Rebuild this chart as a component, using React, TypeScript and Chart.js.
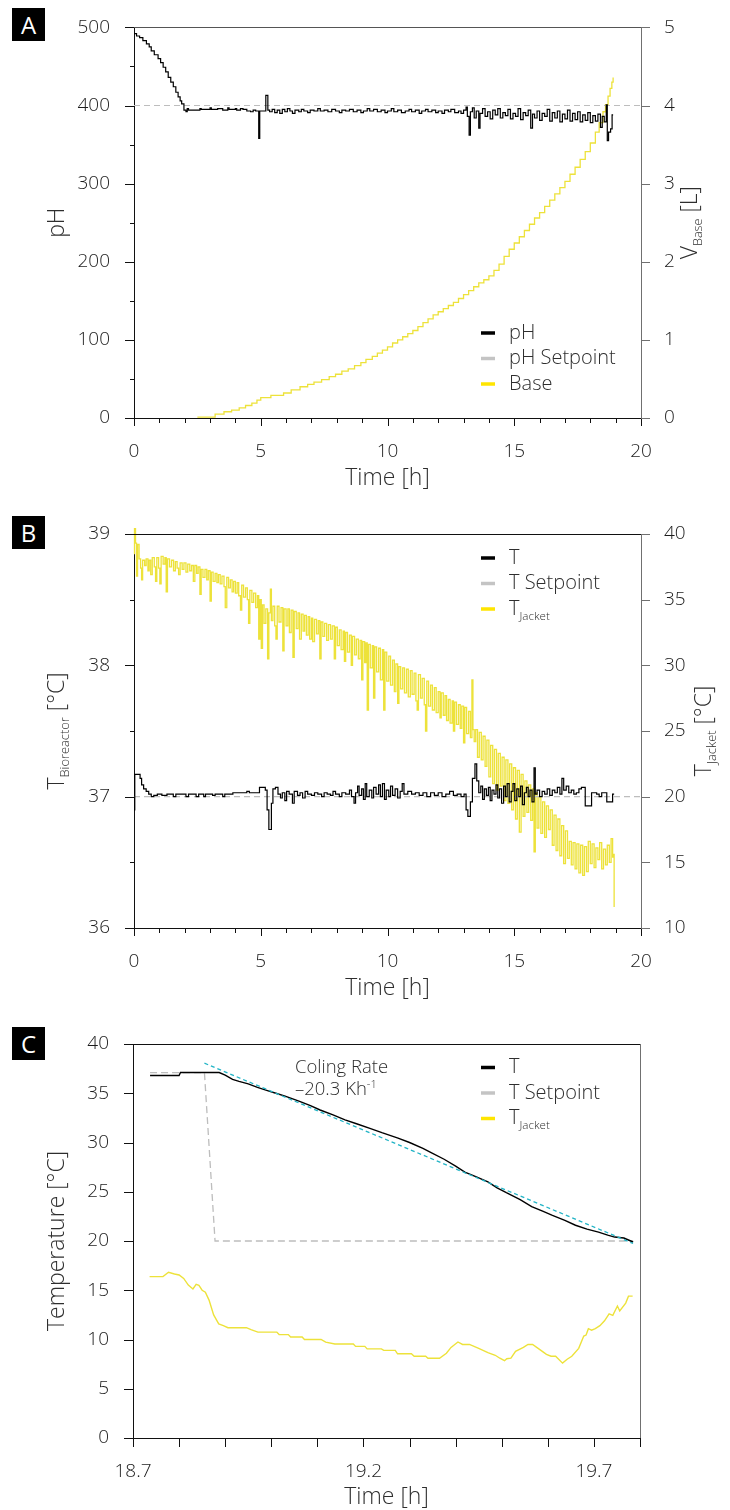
import React, { useEffect, useRef } from 'react';
import { Chart, registerables } from 'chart.js';

Chart.register(...registerables);

type Pt = [number, number];
type Part = { t: string; s?: 'sub' | 'sup'; k?: number };

// ---------- tick values ----------
const X_MAJOR_AB = [0, 5, 10, 15, 20];
const X_MINOR_AB = [1, 2, 3, 4, 6, 7, 8, 9, 11, 12, 13, 14, 16, 17, 18, 19];
const PH_MAJOR = [0, 100, 200, 300, 400, 500];
const PH_MINOR = [50, 150, 250, 350, 450];
const VBASE_TICKS = [0, 1, 2, 3, 4, 5];
const TBIO_MAJOR = [36, 37, 38, 39];
const TBIO_MINOR = [36.5, 37.5, 38.5];
const TJACKET_TICKS = [10, 15, 20, 25, 30, 35, 40];
const C_X_TICKS = [18.7, 18.8, 18.9, 19.0, 19.1, 19.2, 19.3, 19.4, 19.5, 19.6, 19.7, 19.8];
const C_X_LABELS = [18.7, 19.2, 19.7];
const C_Y_TICKS = [0, 5, 10, 15, 20, 25, 30, 35, 40];

// ---------- panel A ----------
const PH: Pt[] = [
  [0, 492], [0.1, 489], [0.22, 487], [0.35, 483], [0.49, 479], [0.6, 475], [0.68, 470], [0.8, 465], [0.95, 460],
  [1.05, 455], [1.15, 449], [1.25, 443], [1.35, 436], [1.45, 430], [1.55, 424], [1.65, 417], [1.74, 411], [1.82, 406],
  [1.88, 402], [1.97, 394], [2.05, 392], [2.1, 396], [2.15, 394], [2.6, 396], [2.65, 395], [3.0, 397], [3.05, 395],
  [3.3, 396], [3.5, 394], [3.7, 397], [3.75, 395], [4.0, 396], [4.05, 394], [4.2, 396], [4.3, 395], [4.45, 393],
  [4.6, 392], [4.7, 394], [4.8, 393], [4.92, 358], [4.96, 393], [5.2, 413], [5.28, 394], [5.35, 392], [5.45, 395],
  [5.55, 391], [5.65, 394], [5.75, 390], [5.85, 395], [5.95, 392], [6.05, 396], [6.15, 393], [6.25, 390], [6.35, 394],
  [6.5, 392], [6.6, 395], [6.7, 393], [6.85, 391], [6.95, 394], [7.1, 393], [7.25, 396], [7.35, 393], [7.5, 394],
  [7.65, 392], [7.8, 395], [7.95, 393], [8.1, 391], [8.2, 394], [8.35, 393], [8.5, 395], [8.65, 392], [8.8, 394],
  [8.95, 391], [9.05, 393], [9.2, 396], [9.3, 393], [9.45, 395], [9.6, 392], [9.75, 394], [9.9, 391], [10.0, 393],
  [10.15, 396], [10.25, 392], [10.4, 394], [10.55, 391], [10.7, 393], [10.85, 395], [10.95, 392], [11.1, 394],
  [11.25, 390], [11.35, 393], [11.5, 395], [11.6, 392], [11.75, 394], [11.9, 391], [12.0, 393], [12.15, 390],
  [12.25, 394], [12.4, 392], [12.5, 395], [12.65, 391], [12.8, 393], [12.9, 390], [13.0, 394], [13.1, 398],
  [13.15, 386], [13.22, 362], [13.27, 392], [13.35, 397], [13.42, 384], [13.5, 393], [13.6, 371], [13.65, 390],
  [13.75, 396], [13.85, 386], [13.95, 392], [14.05, 383], [14.15, 394], [14.25, 388], [14.35, 396], [14.45, 384],
  [14.55, 391], [14.65, 387], [14.75, 395], [14.85, 383], [14.95, 390], [15.05, 386], [15.15, 396], [15.25, 382],
  [15.35, 391], [15.45, 387], [15.55, 394], [15.65, 371], [15.72, 389], [15.8, 384], [15.9, 393], [16.0, 381],
  [16.1, 390], [16.2, 386], [16.3, 395], [16.4, 380], [16.5, 391], [16.6, 384], [16.7, 393], [16.8, 379], [16.9, 389],
  [17.0, 383], [17.1, 394], [17.2, 380], [17.3, 390], [17.4, 382], [17.5, 392], [17.6, 379], [17.7, 388], [17.8, 381],
  [17.9, 391], [18.0, 378], [18.1, 387], [18.2, 380], [18.3, 389], [18.4, 372], [18.47, 386], [18.55, 379],
  [18.63, 401], [18.67, 355], [18.72, 366], [18.8, 370], [18.86, 388], [18.9, 388],
];
const PH_SETPOINT: Pt[] = [[0, 400], [20, 400]];
const BASE: Pt[] = [
  [2.5, 0.01], [3.2, 0.05], [3.55, 0.08], [3.85, 0.1], [4.15, 0.13], [4.4, 0.16], [4.65, 0.19], [4.85, 0.23],
  [5.0, 0.26], [5.4, 0.29], [5.9, 0.32], [6.2, 0.36], [6.55, 0.4], [6.85, 0.43], [7.1, 0.46], [7.4, 0.49],
  [7.7, 0.53], [7.95, 0.56], [8.2, 0.6], [8.45, 0.63], [8.7, 0.67], [8.95, 0.71], [9.15, 0.75], [9.4, 0.79],
  [9.6, 0.83], [9.8, 0.87], [10.0, 0.91], [10.2, 0.96], [10.4, 1.0], [10.6, 1.04], [10.8, 1.08], [11.0, 1.12],
  [11.2, 1.17], [11.4, 1.22], [11.6, 1.27], [11.8, 1.32], [12.0, 1.36], [12.2, 1.4], [12.4, 1.44], [12.6, 1.48],
  [12.8, 1.53], [13.0, 1.58], [13.2, 1.63], [13.4, 1.68], [13.6, 1.73], [13.8, 1.77], [14.0, 1.82], [14.2, 1.89],
  [14.4, 1.97], [14.6, 2.07], [14.8, 2.16], [15.0, 2.24], [15.2, 2.32], [15.4, 2.4], [15.6, 2.48], [15.8, 2.56],
  [16.0, 2.63], [16.2, 2.71], [16.4, 2.79], [16.6, 2.87], [16.8, 2.95], [17.0, 3.03], [17.2, 3.12], [17.4, 3.21],
  [17.6, 3.31], [17.8, 3.41], [18.0, 3.52], [18.2, 3.66], [18.35, 3.78], [18.5, 3.92], [18.6, 4.01], [18.7, 4.12],
  [18.78, 4.22], [18.85, 4.3], [18.9, 4.36],
];

// ---------- panel B ----------
const T_B: Pt[] = [
  [0, 36.9], [0.03, 37.17], [0.24, 37.14], [0.3, 37.09], [0.38, 37.06], [0.48, 37.04], [0.58, 37.02], [0.68, 37.0],
  [0.78, 37.01], [0.92, 37.02], [1.1, 37.01], [1.3, 37.02], [1.55, 37.0], [1.65, 37.02], [1.95, 37.02], [2.05, 37.0],
  [2.15, 37.02], [2.45, 37.0], [2.55, 37.02], [2.75, 37.0], [2.82, 37.02], [3.1, 37.01], [3.2, 37.02], [3.5, 37.0],
  [3.58, 37.02], [3.9, 37.03], [4.3, 37.03], [4.45, 37.04], [4.55, 37.03], [4.95, 37.07], [5.18, 37.05],
  [5.25, 36.9], [5.32, 36.75], [5.42, 36.95], [5.48, 37.06], [5.58, 37.07], [5.68, 37.02], [5.78, 36.99],
  [5.85, 37.03], [5.95, 36.97], [6.02, 37.04], [6.12, 37.02], [6.25, 36.95], [6.32, 37.04], [6.45, 37.01],
  [6.55, 37.03], [6.65, 36.99], [6.75, 37.04], [6.85, 37.02], [7.0, 37.01], [7.12, 37.03], [7.25, 37.02],
  [7.4, 37.0], [7.5, 37.03], [7.62, 37.02], [7.75, 37.01], [7.85, 37.04], [7.95, 37.02], [8.1, 37.0], [8.2, 37.03],
  [8.35, 37.02], [8.5, 37.05], [8.58, 37.0], [8.68, 36.95], [8.74, 37.03], [8.82, 37.08], [8.88, 37.01],
  [8.98, 37.06], [9.05, 36.98], [9.12, 37.1], [9.18, 37.0], [9.28, 37.05], [9.38, 36.99], [9.45, 37.07],
  [9.55, 37.02], [9.65, 37.09], [9.72, 37.0], [9.8, 37.1], [9.88, 36.98], [9.95, 37.05], [10.05, 37.0],
  [10.12, 37.08], [10.2, 37.01], [10.3, 37.06], [10.4, 36.99], [10.5, 37.04], [10.58, 37.1], [10.65, 37.02],
  [10.8, 37.04], [10.95, 37.02], [11.1, 37.03], [11.25, 37.01], [11.4, 37.03], [11.55, 37.0], [11.7, 37.03],
  [11.85, 37.01], [12.0, 37.03], [12.15, 37.0], [12.3, 37.02], [12.45, 37.04], [12.6, 37.01], [12.75, 37.02],
  [12.9, 37.0], [13.02, 37.02], [13.1, 36.9], [13.17, 36.85], [13.27, 36.96], [13.35, 37.14], [13.45, 37.25],
  [13.52, 37.12], [13.6, 37.03], [13.68, 37.08], [13.75, 36.98], [13.82, 37.06], [13.9, 37.01], [13.98, 37.07],
  [14.05, 36.97], [14.12, 37.05], [14.2, 37.02], [14.28, 37.09], [14.35, 36.99], [14.42, 37.06], [14.5, 36.95],
  [14.58, 37.08], [14.65, 37.0], [14.72, 37.1], [14.8, 36.96], [14.88, 37.04], [14.95, 37.1], [15.02, 36.97],
  [15.1, 37.06], [15.18, 37.0], [15.25, 37.08], [15.32, 36.94], [15.4, 37.03], [15.48, 37.07], [15.55, 37.0],
  [15.62, 37.05], [15.7, 36.96], [15.78, 37.22], [15.83, 37.02], [15.9, 37.05], [16.0, 37.0], [16.1, 37.04],
  [16.2, 37.02], [16.3, 37.06], [16.4, 37.01], [16.5, 37.05], [16.6, 37.03], [16.7, 37.07], [16.8, 37.02],
  [16.88, 37.14], [16.95, 37.05], [17.05, 37.08], [17.15, 37.03], [17.25, 37.05], [17.35, 37.02], [17.45, 37.03],
  [17.55, 37.06], [17.65, 37.07], [17.8, 36.93], [18.05, 37.03], [18.25, 37.02], [18.35, 37.0], [18.45, 37.03],
  [18.65, 36.96], [18.88, 37.02], [18.94, 37.02],
];
const T_SETPOINT_B: Pt[] = [[0, 37], [20, 37]];
const T_JACKET_B: Pt[] = [
  [0, 38.5], [0.02, 40.4], [0.06, 39.3], [0.1, 36.8], [0.14, 39.2], [0.2, 38.1], [0.26, 37.4], [0.3, 36.5],
  [0.34, 38.0], [0.42, 37.6], [0.48, 38.1], [0.55, 37.2], [0.6, 38.0], [0.66, 36.9], [0.72, 38.2], [0.8, 37.5],
  [0.85, 36.4], [0.9, 38.2], [0.97, 37.4], [1.02, 36.2], [1.07, 38.3], [1.15, 37.7], [1.22, 38.2], [1.27, 35.6],
  [1.32, 38.1], [1.4, 37.5], [1.48, 38.0], [1.56, 37.2], [1.63, 37.9], [1.7, 37.4], [1.76, 36.9], [1.82, 37.8],
  [1.9, 37.3], [1.97, 37.8], [2.05, 37.1], [2.12, 37.7], [2.2, 37.2], [2.27, 37.6], [2.34, 36.4], [2.4, 37.6],
  [2.47, 37.0], [2.53, 37.5], [2.6, 35.4], [2.65, 37.3], [2.72, 36.7], [2.8, 37.3], [2.87, 36.5], [2.93, 37.2],
  [3.0, 34.9], [3.05, 37.1], [3.12, 36.4], [3.2, 37.0], [3.27, 36.3], [3.33, 36.9], [3.4, 36.2], [3.47, 36.8],
  [3.55, 36.0], [3.6, 34.4], [3.66, 36.7], [3.73, 35.9], [3.8, 36.5], [3.87, 35.6], [3.93, 36.4], [4.0, 35.5],
  [4.07, 36.3], [4.13, 35.3], [4.2, 34.2], [4.25, 36.1], [4.32, 35.2], [4.4, 35.9], [4.47, 35.0], [4.52, 33.2],
  [4.57, 35.7], [4.65, 34.8], [4.72, 35.5], [4.8, 34.4], [4.87, 35.3], [4.92, 32.0], [4.97, 35.0], [5.02, 31.3],
  [5.07, 34.6], [5.13, 33.2], [5.2, 34.3], [5.27, 30.5], [5.32, 34.0], [5.38, 35.8], [5.42, 33.4], [5.48, 34.5],
  [5.55, 33.0], [5.6, 32.0], [5.65, 34.5], [5.72, 33.3], [5.8, 34.4], [5.87, 31.1], [5.92, 34.3], [6.0, 33.0],
  [6.07, 34.3], [6.13, 32.5], [6.2, 34.2], [6.27, 30.6], [6.32, 34.1], [6.4, 32.8], [6.47, 34.0], [6.53, 32.0],
  [6.6, 33.9], [6.67, 32.6], [6.73, 33.8], [6.8, 32.3], [6.87, 33.7], [6.93, 32.0], [7.0, 33.6], [7.05, 31.8],
  [7.12, 33.5], [7.2, 32.4], [7.27, 33.4], [7.33, 30.5], [7.38, 33.3], [7.45, 32.2], [7.52, 33.2], [7.6, 31.9],
  [7.67, 33.1], [7.75, 32.0], [7.82, 33.0], [7.9, 30.5], [7.95, 32.9], [8.02, 31.5], [8.1, 32.7], [8.17, 31.2],
  [8.25, 32.6], [8.3, 30.3], [8.35, 32.5], [8.42, 31.0], [8.5, 32.3], [8.57, 30.0], [8.62, 32.2], [8.7, 30.8],
  [8.77, 32.0], [8.85, 30.5], [8.92, 31.9], [8.98, 28.9], [9.03, 31.8], [9.1, 30.2], [9.15, 31.7], [9.2, 26.6],
  [9.25, 31.6], [9.32, 29.8], [9.4, 31.5], [9.45, 27.5], [9.5, 31.4], [9.57, 29.5], [9.65, 31.3], [9.72, 28.9],
  [9.8, 31.2], [9.85, 26.6], [9.9, 31.0], [9.97, 28.8], [10.05, 30.7], [10.12, 28.5], [10.2, 30.4], [10.27, 28.0],
  [10.33, 30.1], [10.4, 27.1], [10.45, 29.9], [10.52, 28.2], [10.6, 29.8], [10.67, 27.9], [10.75, 29.7],
  [10.82, 27.6], [10.9, 29.6], [10.97, 27.8], [11.05, 29.4], [11.12, 27.3], [11.17, 26.6], [11.22, 29.3],
  [11.3, 27.5], [11.37, 29.0], [11.45, 27.0], [11.5, 25.0], [11.55, 28.8], [11.62, 26.9], [11.7, 28.5],
  [11.77, 26.6], [11.85, 28.3], [11.92, 26.4], [12.0, 28.0], [12.07, 26.0], [12.12, 27.9], [12.2, 26.2],
  [12.27, 27.7], [12.33, 25.8], [12.4, 27.4], [12.47, 25.6], [12.55, 27.3], [12.6, 25.0], [12.65, 27.2],
  [12.72, 25.5], [12.8, 27.0], [12.87, 25.2], [12.93, 26.9], [13.0, 24.1], [13.05, 26.8], [13.12, 24.8],
  [13.2, 26.5], [13.27, 24.5], [13.33, 28.9], [13.37, 25.1], [13.42, 24.2], [13.48, 25.1], [13.55, 23.0],
  [13.62, 24.9], [13.7, 22.8], [13.77, 24.6], [13.85, 22.3], [13.92, 24.3], [14.0, 21.5], [14.07, 23.9],
  [14.15, 21.0], [14.22, 23.6], [14.3, 20.5], [14.37, 23.3], [14.45, 20.8], [14.52, 23.0], [14.6, 19.7],
  [14.67, 22.8], [14.75, 19.5], [14.82, 22.5], [14.9, 19.0], [14.97, 22.2], [15.05, 18.3], [15.12, 22.0],
  [15.2, 17.3], [15.27, 21.7], [15.35, 18.5], [15.42, 21.2], [15.5, 18.8], [15.57, 20.9], [15.65, 18.2],
  [15.72, 20.6], [15.78, 15.8], [15.83, 20.3], [15.9, 17.6], [15.97, 20.0], [16.05, 17.2], [16.12, 19.6],
  [16.2, 16.9], [16.27, 19.3], [16.35, 17.5], [16.42, 19.0], [16.5, 16.3], [16.57, 18.6], [16.65, 15.9],
  [16.72, 18.3], [16.8, 15.5], [16.87, 17.8], [16.95, 14.9], [17.02, 17.4], [17.1, 15.3], [17.17, 16.6],
  [17.25, 14.8], [17.32, 16.5], [17.4, 14.5], [17.47, 16.4], [17.55, 14.2], [17.62, 16.3], [17.7, 14.0],
  [17.77, 16.2], [17.85, 14.3], [17.92, 16.6], [18.0, 14.9], [18.07, 16.4], [18.15, 14.6], [18.22, 16.1],
  [18.3, 15.2], [18.37, 16.5], [18.45, 14.5], [18.52, 16.0], [18.6, 14.8], [18.67, 16.3], [18.75, 15.0],
  [18.82, 16.8], [18.88, 15.4], [18.92, 15.6], [18.94, 11.6],
];

// ---------- panel C ----------
const T_C: Pt[] = [
  [18.737, 36.8], [18.8, 36.8], [18.803, 37.1], [18.887, 37.1], [18.9, 36.85], [18.916, 36.4], [18.93, 36.2],
  [18.95, 35.95], [18.97, 35.6], [18.99, 35.3], [19.01, 35.0], [19.03, 34.7], [19.06, 34.2], [19.085, 33.75],
  [19.106, 33.3], [19.134, 32.8], [19.16, 32.3], [19.185, 31.9], [19.214, 31.44], [19.24, 31.0],
  [19.275, 30.45], [19.3, 30.0], [19.329, 29.4], [19.35, 28.9], [19.375, 28.3], [19.4, 27.6], [19.42, 27.0],
  [19.445, 26.5], [19.47, 26.0], [19.49, 25.4], [19.51, 24.9], [19.54, 24.2], [19.565, 23.5], [19.59, 23.0],
  [19.61, 22.6], [19.637, 22.1], [19.66, 21.6], [19.685, 21.2], [19.71, 20.9], [19.73, 20.6], [19.745, 20.4],
  [19.765, 20.3], [19.78, 20.0], [19.785, 19.9],
];
const T_SETPOINT_C: Pt[] = [[18.737, 37.1], [18.855, 37.1], [18.878, 20.0], [19.785, 20.0]];
const T_JACKET_C: Pt[] = [
  [18.736, 16.38], [18.765, 16.38], [18.777, 16.82], [18.79, 16.65], [18.8, 16.55], [18.81, 16.2], [18.82, 15.53],
  [18.83, 15.13], [18.837, 15.6], [18.843, 15.5], [18.85, 15.0], [18.857, 14.8], [18.865, 14.0], [18.875, 12.5],
  [18.886, 11.58], [18.896, 11.4], [18.906, 11.2], [18.946, 11.2], [18.956, 11.0], [18.971, 10.75], [19.012, 10.75],
  [19.017, 10.5], [19.037, 10.5], [19.042, 10.25], [19.067, 10.25], [19.072, 10.0], [19.108, 10.0], [19.118, 9.73],
  [19.138, 9.55], [19.178, 9.55], [19.183, 9.3], [19.203, 9.3], [19.208, 9.05], [19.239, 9.05], [19.244, 8.9],
  [19.269, 8.9], [19.274, 8.55], [19.304, 8.55], [19.31, 8.3], [19.335, 8.3], [19.34, 8.1], [19.365, 8.1],
  [19.38, 8.6], [19.39, 9.2], [19.405, 9.75], [19.415, 9.5], [19.43, 9.5], [19.45, 9.1], [19.47, 8.66],
  [19.486, 8.4], [19.496, 8.1], [19.506, 7.85], [19.511, 8.05], [19.52, 8.1], [19.53, 8.8], [19.547, 9.2],
  [19.557, 9.5], [19.567, 9.5], [19.582, 9.0], [19.597, 8.5], [19.607, 8.3], [19.617, 8.3], [19.632, 7.6],
  [19.642, 8.0], [19.652, 8.3], [19.667, 9.1], [19.678, 10.35], [19.683, 10.45], [19.688, 11.1], [19.695, 10.95],
  [19.703, 11.1], [19.713, 11.4], [19.723, 11.9], [19.733, 12.6], [19.741, 12.45], [19.751, 13.4], [19.756, 12.9],
  [19.769, 13.7], [19.775, 14.4], [19.784, 14.4],
];
const COOLING_FIT: Pt[] = [[18.855, 38.05], [19.785, 19.75]];

// ---------- styling ----------
const FONT = '"Open Sans", "Noto Sans", sans-serif';
const WEIGHT = 300;
const TICK_COLOR = '#1c1c1c';
const TEXT_COLOR = '#2e2e2e';
const AXIS_DARK = '#111111';
const AXIS_GRAY = '#707070';
const YELLOW = '#EDE23A';
const YELLOW_KEY = '#FFE500';
const GRAY_DASH = '#BDBDBD';
const GRAY_KEY = '#C4C4C4';
const CYAN = '#22B4C6';

type TickSpec = { scale: string; values: number[]; len: number; color: string };
type TitleSpec = { parts: Part[]; size: number; anchor: 'bottom' | 'left' | 'right'; at: number };
type LegendSpec = { x: number; y: number; gap: number; size: number; items: { parts: Part[]; color: string }[] };
type NoteSpec = { x: number; y: number; size: number; parts: Part[] };
type DecorSpec = { topColor: string; ticks: TickSpec[]; titles: TitleSpec[]; legend: LegendSpec; notes?: NoteSpec[] };

function partSize(size: number, p: Part) {
  return p.s ? size * (p.k ?? 0.58) : size;
}
function richWidth(ctx: CanvasRenderingContext2D, parts: Part[], size: number) {
  let w = 0;
  for (const p of parts) {
    ctx.font = `${WEIGHT} ${partSize(size, p)}px ${FONT}`;
    w += ctx.measureText(p.t).width;
  }
  return w;
}
function drawRich(ctx: CanvasRenderingContext2D, parts: Part[], x: number, y: number, size: number, color: string, center: boolean) {
  ctx.save();
  ctx.fillStyle = color;
  ctx.textBaseline = 'middle';
  ctx.textAlign = 'left';
  let cx = center ? x - richWidth(ctx, parts, size) / 2 : x;
  for (const p of parts) {
    ctx.font = `${WEIGHT} ${partSize(size, p)}px ${FONT}`;
    const dy = p.s === 'sub' ? size * 0.36 : p.s === 'sup' ? -size * 0.3 : 0;
    ctx.fillText(p.t, cx, y + dy);
    cx += ctx.measureText(p.t).width;
  }
  ctx.restore();
}

function makeDecor(id: string, spec: DecorSpec) {
  return {
    id,
    afterDraw(chart: any) {
      const ctx: CanvasRenderingContext2D = chart.ctx;
      const ca = chart.chartArea;
      ctx.save();
      // top frame
      ctx.strokeStyle = spec.topColor;
      ctx.lineWidth = 1;
      ctx.beginPath();
      ctx.moveTo(ca.left, Math.round(ca.top) + 0.5);
      ctx.lineTo(ca.right, Math.round(ca.top) + 0.5);
      ctx.stroke();
      // tick marks (major and minor) from the scales
      for (const tk of spec.ticks) {
        const sc = chart.scales[tk.scale];
        ctx.strokeStyle = tk.color;
        ctx.lineWidth = 1;
        ctx.beginPath();
        for (const v of tk.values) {
          const p = Math.round(sc.getPixelForValue(v)) + 0.5;
          if (sc.isHorizontal()) {
            ctx.moveTo(p, sc.top);
            ctx.lineTo(p, sc.top + tk.len);
          } else if (sc.position === 'left') {
            ctx.moveTo(sc.right - tk.len, p);
            ctx.lineTo(sc.right, p);
          } else {
            ctx.moveTo(sc.left, p);
            ctx.lineTo(sc.left + tk.len, p);
          }
        }
        ctx.stroke();
      }
      // axis titles
      for (const t of spec.titles) {
        if (t.anchor === 'bottom') {
          drawRich(ctx, t.parts, (ca.left + ca.right) / 2, ca.bottom + t.at, t.size, TEXT_COLOR, true);
        } else {
          ctx.save();
          ctx.translate(t.at, (ca.top + ca.bottom) / 2);
          ctx.rotate(-Math.PI / 2);
          drawRich(ctx, t.parts, 0, 0, t.size, TEXT_COLOR, true);
          ctx.restore();
        }
      }
      // legend
      const lg = spec.legend;
      lg.items.forEach((it, i) => {
        const y = lg.y + i * lg.gap;
        ctx.strokeStyle = it.color;
        ctx.lineWidth = 3.5;
        ctx.beginPath();
        ctx.moveTo(lg.x, y);
        ctx.lineTo(lg.x + 14, y);
        ctx.stroke();
        drawRich(ctx, it.parts, lg.x + 28, y, lg.size, TEXT_COLOR, false);
      });
      // notes
      for (const n of spec.notes ?? []) drawRich(ctx, n.parts, n.x, n.y, n.size, TEXT_COLOR, false);
      ctx.restore();
    },
  };
}

const toXY = (pts: Pt[]) => pts.map(([x, y]) => ({ x, y }));

const tickFont = { family: FONT, size: 19, weight: WEIGHT };

function xScale(min: number, max: number, height: number, step: number) {
  return {
    type: 'linear',
    position: 'bottom',
    min,
    max,
    grid: { display: false },
    border: { color: AXIS_DARK, width: 1 },
    ticks: { stepSize: step, padding: 14, color: TICK_COLOR, font: tickFont, maxRotation: 0, autoSkip: false },
    afterFit: (s: any) => { s.height = height; },
  };
}
function yScale(position: 'left' | 'right', min: number, max: number, step: number, width: number, color: string, showLabels = true) {
  return {
    type: 'linear',
    position,
    min,
    max,
    grid: { display: false },
    border: { color, width: 1 },
    ticks: { display: showLabels, stepSize: step, padding: position === 'left' ? 16 : 15, color: TICK_COLOR, font: tickFont },
    afterFit: (s: any) => { s.width = width; },
  };
}

function baseOptions(padTop: number, scales: any) {
  return {
    animation: false,
    responsive: false,
    maintainAspectRatio: false,
    devicePixelRatio: 1,
    events: [],
    layout: { padding: { top: padTop, left: 0, right: 0, bottom: 0 } },
    elements: { point: { radius: 0 }, line: { tension: 0 } },
    plugins: { legend: { display: false }, tooltip: { enabled: false } },
    scales,
  };
}

function configA() {
  return {
    type: 'line',
    data: {
      datasets: [
        { data: toXY(PH), borderColor: '#000', borderWidth: 1.2, stepped: true, yAxisID: 'y', order: 0 },
        { data: toXY(PH_SETPOINT), borderColor: GRAY_DASH, borderWidth: 1.2, borderDash: [6, 4], yAxisID: 'y', order: 1 },
        { data: toXY(BASE), borderColor: YELLOW, borderWidth: 1.3, stepped: true, yAxisID: 'y1', order: 2 },
      ],
    },
    options: baseOptions(25, {
      x: xScale(0, 20, 87, 5),
      y: yScale('left', 0, 500, 100, 134, AXIS_DARK),
      y1: yScale('right', 0, 5, 1, 89, AXIS_GRAY),
    }),
    plugins: [
      makeDecor('decorA', {
        topColor: '#555',
        ticks: [
          { scale: 'x', values: X_MAJOR_AB, len: 8, color: AXIS_DARK },
          { scale: 'x', values: X_MINOR_AB, len: 5, color: AXIS_DARK },
          { scale: 'y', values: PH_MAJOR, len: 9, color: AXIS_DARK },
          { scale: 'y', values: PH_MINOR, len: 4, color: AXIS_DARK },
          { scale: 'y1', values: VBASE_TICKS, len: 9, color: AXIS_GRAY },
        ],
        titles: [
          { parts: [{ t: 'Time [h]' }], size: 23, anchor: 'bottom', at: 60 },
          { parts: [{ t: 'pH' }], size: 23, anchor: 'left', at: 57 },
          { parts: [{ t: 'V' }, { t: 'Base', s: 'sub', k: 0.55 }, { t: ' [L]' }], size: 23, anchor: 'right', at: 690 },
        ],
        legend: {
          x: 481, y: 333, gap: 25.5, size: 20,
          items: [
            { parts: [{ t: 'pH' }], color: '#000' },
            { parts: [{ t: 'pH Setpoint' }], color: GRAY_KEY },
            { parts: [{ t: 'Base' }], color: YELLOW_KEY },
          ],
        },
      }),
    ],
  };
}

function configB() {
  return {
    type: 'line',
    data: {
      datasets: [
        { data: toXY(T_B), borderColor: '#000', borderWidth: 1.2, stepped: true, yAxisID: 'y', order: 0 },
        { data: toXY(T_SETPOINT_B), borderColor: GRAY_DASH, borderWidth: 1.2, borderDash: [6, 4], yAxisID: 'y', order: 1 },
        { data: toXY(T_JACKET_B), borderColor: YELLOW, borderWidth: 1.3, stepped: true, yAxisID: 'y1', order: 2, clip: 6 },
      ],
    },
    options: baseOptions(29, {
      x: xScale(0, 20, 82, 5),
      y: yScale('left', 36, 39, 1, 134, AXIS_DARK),
      y1: yScale('right', 10, 40, 5, 89, AXIS_GRAY),
    }),
    plugins: [
      makeDecor('decorB', {
        topColor: AXIS_DARK,
        ticks: [
          { scale: 'x', values: X_MAJOR_AB, len: 8, color: AXIS_DARK },
          { scale: 'x', values: X_MINOR_AB, len: 5, color: AXIS_DARK },
          { scale: 'y', values: TBIO_MAJOR, len: 9, color: AXIS_DARK },
          { scale: 'y', values: TBIO_MINOR, len: 4, color: AXIS_DARK },
          { scale: 'y1', values: TJACKET_TICKS, len: 9, color: AXIS_GRAY },
        ],
        titles: [
          { parts: [{ t: 'Time [h]' }], size: 23, anchor: 'bottom', at: 60 },
          { parts: [{ t: 'T' }, { t: 'Bioreactor', s: 'sub', k: 0.56 }, { t: ' [°C]' }], size: 23, anchor: 'left', at: 57 },
          { parts: [{ t: 'T' }, { t: 'Jacket', s: 'sub', k: 0.56 }, { t: ' [°C]' }], size: 23, anchor: 'right', at: 704 },
        ],
        legend: {
          x: 481, y: 53, gap: 25.5, size: 20,
          items: [
            { parts: [{ t: 'T' }], color: '#000' },
            { parts: [{ t: 'T Setpoint' }], color: GRAY_KEY },
            { parts: [{ t: 'T' }, { t: 'Jacket', s: 'sub' }], color: YELLOW_KEY },
          ],
        },
      }),
    ],
  };
}

function configC() {
  return {
    type: 'line',
    data: {
      datasets: [
        { data: toXY(COOLING_FIT), borderColor: CYAN, borderWidth: 1.3, borderDash: [4, 3], yAxisID: 'y', order: 0 },
        { data: toXY(T_C), borderColor: '#000', borderWidth: 1.4, yAxisID: 'y', order: 1 },
        { data: toXY(T_SETPOINT_C), borderColor: GRAY_DASH, borderWidth: 1.3, borderDash: [7, 4], yAxisID: 'y', order: 2 },
        { data: toXY(T_JACKET_C), borderColor: YELLOW, borderWidth: 1.4, yAxisID: 'y', order: 3 },
      ],
    },
    options: baseOptions(34, {
      x: {
        ...xScale(18.7, 19.8, 72, 0.5),
        afterBuildTicks: (s: any) => { s.ticks = C_X_LABELS.map((v) => ({ value: v })); },
        ticks: {
          padding: 14, color: TICK_COLOR, font: tickFont, maxRotation: 0, autoSkip: false,
          callback: (v: any) => Number(v).toFixed(1),
        },
      },
      y: yScale('left', 0, 40, 5, 133, AXIS_DARK),
      y1: yScale('right', 0, 40, 5, 90, AXIS_GRAY, false),
    }),
    plugins: [
      makeDecor('decorC', {
        topColor: AXIS_DARK,
        ticks: [
          { scale: 'x', values: C_X_TICKS, len: 9, color: AXIS_DARK },
          { scale: 'y', values: C_Y_TICKS, len: 9, color: AXIS_DARK },
        ],
        titles: [
          { parts: [{ t: 'Time [h]' }], size: 23, anchor: 'bottom', at: 59 },
          { parts: [{ t: 'Temperature [°C]' }], size: 23, anchor: 'left', at: 57 },
        ],
        legend: {
          x: 481, y: 57.5, gap: 25.5, size: 20,
          items: [
            { parts: [{ t: 'T' }], color: '#000' },
            { parts: [{ t: 'T Setpoint' }], color: GRAY_KEY },
            { parts: [{ t: 'T' }, { t: 'Jacket', s: 'sub' }], color: YELLOW_KEY },
          ],
        },
        notes: [
          { x: 295, y: 58, size: 18.5, parts: [{ t: 'Coling Rate' }] },
          { x: 295, y: 80, size: 18.5, parts: [{ t: '–20.3 Kh' }, { t: '-1', s: 'sup', k: 0.6 }] },
        ],
      }),
    ],
  };
}

function Panel({ top, height, make }: { top: number; height: number; make: () => any }) {
  const ref = useRef<HTMLCanvasElement | null>(null);
  useEffect(() => {
    if (!ref.current) return;
    const chart = new Chart(ref.current, make());
    return () => chart.destroy();
  }, [make]);
  return (
    <canvas
      ref={ref}
      width={730}
      height={height}
      style={{ position: 'absolute', left: 0, top, width: 730, height, display: 'block' }}
    />
  );
}

function Letter({ top, text }: { top: number; text: string }) {
  return (
    <div
      style={{
        position: 'absolute', left: 12, top, width: 33, height: 33, background: '#000', color: '#fff',
        fontFamily: FONT, fontSize: 24, lineHeight: '33px', textAlign: 'center',
      }}
    >
      {text}
    </div>
  );
}

export default function App() {
  return (
    <div style={{ position: 'absolute', left: 0, top: 0, width: 730, height: 1510, background: '#fff', overflow: 'hidden' }}>
      <Panel top={0} height={505} make={configA} />
      <Panel top={505} height={505} make={configB} />
      <Panel top={1010} height={500} make={configC} />
      <Letter top={8} text="A" />
      <Letter top={516} text="B" />
      <Letter top={1027} text="C" />
    </div>
  );
}
